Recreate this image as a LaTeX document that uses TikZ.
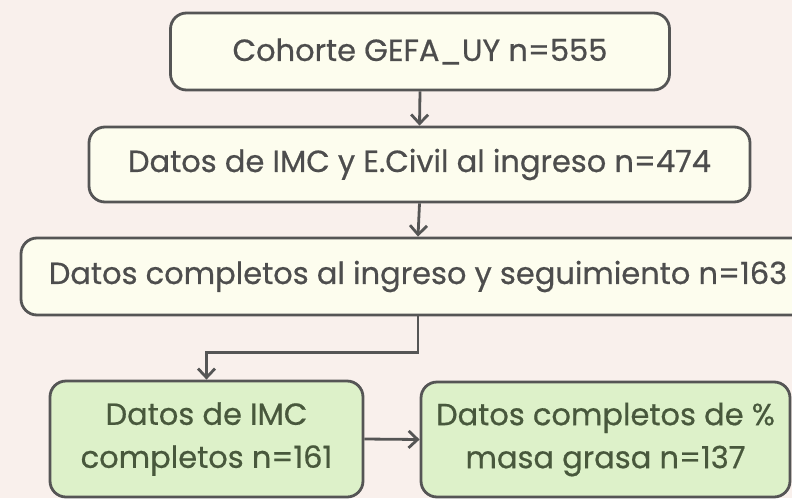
\documentclass[tikz,border=0pt]{standalone}
\usepackage{fontspec}
\setmainfont{Poppins}[FakeBold=0.6, UprightFont=*, BoldFont=*]
\usetikzlibrary{arrows.meta}
\definecolor{fondo}{RGB}{249, 240, 236}
\definecolor{crema}{RGB}{253, 253, 238}
\definecolor{verde}{RGB}{221, 241, 201}
\definecolor{borde}{RGB}{85, 85, 85}
\definecolor{textogris}{RGB}{77, 77, 77}
\definecolor{textoverde}{RGB}{72, 88, 60}

\begin{document}
\begin{tikzpicture}[x=1pt, y=-1pt,
    caja/.style={draw=borde, line width=2.8pt, rounded corners=16pt, fill=crema,
                 text=textogris, font=\fontsize{30.5}{43}\bfseries\selectfont, inner sep=0pt},
    cajaverde/.style={caja, fill=verde, text=textoverde, align=center},
    flecha/.style={draw=borde, line width=2.8pt, -{Straight Barb[length=9pt, width=17pt, line width=2.8pt]}}]
            % Fondo
            \useasboundingbox[fill=fondo] (0,0) rectangle (792,498);
            
            % Cohorte
            \node[caja, minimum width=499pt, minimum height=77pt] (cohorte) at (420,51.5) {Cohorte GEFA\_UY n=555};
            
            % IMC y estado civil
            \node[caja, minimum width=661pt, minimum height=75pt] (ingreso) at (419.5,164.5) {Datos de IMC y E.Civil al ingreso n=474};
            
            % Seguimiento
            \node[caja, minimum width=794pt, minimum height=77pt] (seguimiento) at (418,276.5) {Datos completos al ingreso y seguimiento n=163};
            
            % IMC completos
            \node[cajaverde, minimum width=313pt, minimum height=116pt] (imc) at (206.5,439) {Datos de IMC\\completos n=161};
            
            % Masa grasa
            \node[cajaverde, minimum width=369pt, minimum height=115pt] (grasa) at (605.5,439.5) {Datos completos de \%\\masa grasa n=137};
            
            % Flechas
            \draw[flecha] (cohorte.south) -- (ingreso.north);
            \draw[flecha] (ingreso.south) -- (seguimiento.north);
            \draw[flecha] (seguimiento.south) -- ++(0,36) -| (imc.north);
            \draw[flecha] (imc.east) -- (grasa.west);
        \end{tikzpicture}
\end{document}
